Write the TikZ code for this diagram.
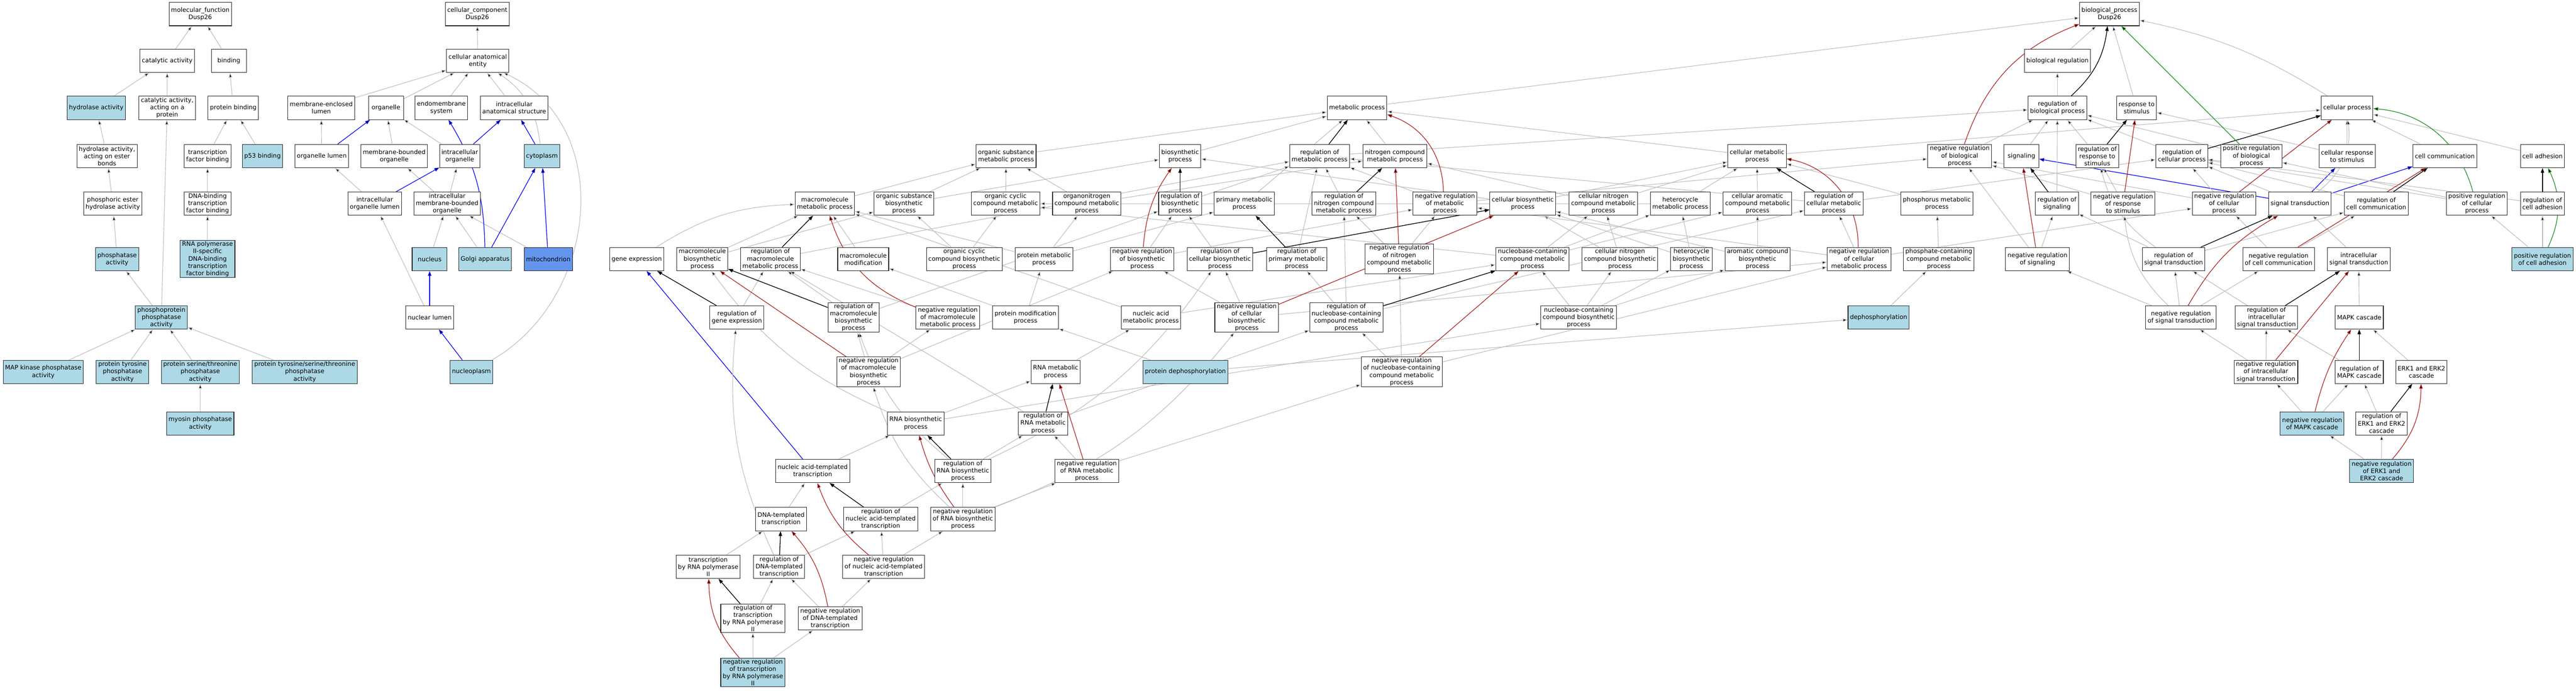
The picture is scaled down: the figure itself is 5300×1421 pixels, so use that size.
\documentclass[tikz,border=0pt]{standalone}
\usepackage{fontspec}
\setmainfont{DejaVu Sans}
\usetikzlibrary{arrows.meta, backgrounds}
\definecolor{hitblue}{HTML}{ADD8E6}
\definecolor{mitoblue}{HTML}{6495ED}
\definecolor{isagray}{HTML}{BEBEBE}
\definecolor{negred}{HTML}{B22222}
\definecolor{posgreen}{HTML}{228B22}
\tikzset{
x=1pt, y=1pt, % one unit is one pixel of the layout
>={Triangle[length=10pt,width=7pt]}, % filled heads
term/.style={draw=black!85, line width=1.1pt, fill=white, rectangle, align=center, font=\fontsize{12.6}{15}\selectfont, minimum width=72pt, minimum height=48pt, inner xsep=4pt, inner ysep=2pt}, % a GO term
hit/.style={term, fill=hitblue}, % annotated terms
mito/.style={term, fill=mitoblue},
isa/.style={->, draw=isagray, line width=1.2pt}, % is a
reg/.style={->, draw=black, line width=1.4pt}, % regulates
negreg/.style={->, draw=negred, line width=1.3pt}, % negatively regulates
posreg/.style={->, draw=posgreen, line width=1.3pt}, % positively regulates
partof/.style={->, draw=blue, line width=1.3pt}, % part of
}
\begin{document}
\begin{tikzpicture}
    \useasboundingbox (0,0) rectangle (5300,-1421);

    % molecular function
    \node[term] (mf) at (412,-29) {molecular\_function\\Dusp26};
    \node[term] (cat) at (344,-125) {catalytic activity};
    \node[term] (bind) at (471,-125) {binding};
    \node[hit] (hydro) at (198,-222) {hydrolase activity};
    \node[term] (catprot) at (344,-222) {catalytic activity,\\acting on a\\protein};
    \node[term] (protbind) at (480,-222) {protein binding};
    \node[term] (hydroester) at (220,-321) {hydrolase activity,\\acting on ester\\bonds};
    \node[term] (tfbind) at (427,-321) {transcription\\factor binding};
    \node[hit] (p53) at (540,-321) {p53 binding};
    \node[term] (phosester) at (232,-419) {phosphoric ester\\hydrolase activity};
    \node[term] (dnatf) at (427,-419) {DNA-binding\\transcription\\factor binding};
    \node[hit] (phosphatase) at (241,-533) {phosphatase\\activity};
    \node[hit] (rnapol) at (427,-533) {RNA polymerase\\II-specific\\DNA-binding\\transcription\\factor binding};
    \node[hit] (ppp) at (332,-653) {phosphoprotein\\phosphatase\\activity};
    \node[hit] (mapkp) at (89,-765) {MAP kinase phosphatase\\activity};
    \node[hit] (ptp) at (252,-765) {protein tyrosine\\phosphatase\\activity};
    \node[hit] (pstp) at (412,-765) {protein serine/threonine\\phosphatase\\activity};
    \node[hit] (ptstp) at (627,-765) {protein tyrosine/serine/threonine\\phosphatase\\activity};
    \node[hit] (myosin) at (412,-871) {myosin phosphatase\\activity};

    % cellular component
    \node[term] (cc) at (982,-29) {cellular\_component\\Dusp26};
    \node[term] (cae) at (983,-125) {cellular anatomical\\entity};
    \node[term] (memlumen) at (661,-222) {membrane-enclosed\\lumen};
    \node[term] (organelle) at (794,-222) {organelle};
    \node[term] (endo) at (908,-222) {endomembrane\\system};
    \node[term] (ias) at (1058,-222) {intracellular\\anatomical structure};
    \node[term] (orglumen) at (662,-321) {organelle lumen};
    \node[term] (mbo) at (811,-321) {membrane-bounded\\organelle};
    \node[term] (intorg) at (946,-321) {intracellular\\organelle};
    \node[hit] (cyto) at (1115,-321) {cytoplasm};
    \node[term] (intorglumen) at (771,-419) {intracellular\\organelle lumen};
    \node[term] (imbo) at (920,-419) {intracellular\\membrane-bounded\\organelle};
    \node[hit] (nucleus) at (884,-533) {nucleus};
    \node[hit] (golgi) at (998,-533) {Golgi apparatus};
    \node[mito] (mito) at (1128,-533) {mitochondrion};
    \node[term] (nuclumen) at (884,-653) {nuclear lumen};
    \node[hit] (nucleoplasm) at (970,-765) {nucleoplasm};

    % biological process
    \node[term] (bp) at (4340,-29) {biological\_process\\Dusp26};
    \node[term] (bioreg) at (4233,-125) {biological regulation};
    \node[term] (metab) at (2792,-222) {metabolic process};
    \node[term] (rbiop) at (4233,-222) {regulation of\\biological process};
    \node[term] (resp) at (4396,-222) {response to\\stimulus};
    \node[term] (cellproc) at (4829,-222) {cellular process};
    \node[term] (osmp) at (2070,-321) {organic substance\\metabolic process};
    \node[term] (biosyn) at (2428,-321) {biosynthetic\\process};
    \node[term] (rmetab) at (2715,-321) {regulation of\\metabolic process};
    \node[term] (ncmp) at (2870,-321) {nitrogen compound\\metabolic process};
    \node[term] (cmp) at (3615,-321) {cellular metabolic\\process};
    \node[term] (nbiop) at (4032,-321) {negative regulation\\of biological\\process};
    \node[term] (signaling) at (4159,-321) {signaling};
    \node[term] (rresp) at (4315,-321) {regulation of\\response to\\stimulus};
    \node[term] (rcp) at (4489,-321) {regulation of\\cellular process};
    \node[term] (pbiop) at (4632,-321) {positive regulation\\of biological\\process};
    \node[term] (crs) at (4829,-321) {cellular response\\to stimulus};
    \node[term] (cellcomm) at (5030,-321) {cell communication};
    \node[term] (celladh) at (5231,-321) {cell adhesion};
    \node[term] (mmp) at (1697,-419) {macromolecule\\metabolic process};
    \node[term] (osbp) at (1860,-419) {organic substance\\biosynthetic\\process};
    \node[term] (occmp) at (2069,-419) {organic cyclic\\compound metabolic\\process};
    \node[term] (oncmp) at (2236,-419) {organonitrogen\\compound metabolic\\process};
    \node[term] (rbp) at (2428,-419) {regulation of\\biosynthetic\\process};
    \node[term] (pmp) at (2560,-419) {primary metabolic\\process};
    \node[term] (rncmp) at (2765,-419) {regulation of\\nitrogen compound\\metabolic process};
    \node[term] (nmetab) at (2973,-419) {negative regulation\\of metabolic\\process};
    \node[term] (cbp) at (3133,-419) {cellular biosynthetic\\process};
    \node[term] (cncmp) at (3299,-419) {cellular nitrogen\\compound metabolic\\process};
    \node[term] (hetmp) at (3457,-419) {heterocycle\\metabolic process};
    \node[term] (cacmp) at (3616,-419) {cellular aromatic\\compound metabolic\\process};
    \node[term] (rcmp) at (3773,-419) {regulation of\\cellular metabolic\\process};
    \node[term] (phosmp) at (3985,-419) {phosphorus metabolic\\process};
    \node[term] (rsig) at (4232,-419) {regulation of\\signaling};
    \node[term] (nresp) at (4368,-419) {negative regulation\\of response\\to stimulus};
    \node[term] (ncp) at (4576,-419) {negative regulation\\of cellular\\process};
    \node[term] (sigtrans) at (4732,-419) {signal transduction};
    \node[term] (rcc) at (4889,-419) {regulation of\\cell communication};
    \node[term] (pcp) at (5096,-419) {positive regulation\\of cellular\\process};
    \node[term] (rca) at (5231,-419) {regulation of\\cell adhesion};
    \node[term] (geneexp) at (1310,-533) {gene expression};
    \node[term] (mbp) at (1445,-533) {macromolecule\\biosynthetic\\process};
    \node[term] (rmmp) at (1585,-533) {regulation of\\macromolecule\\metabolic process};
    \node[term] (mmmod) at (1776,-533) {macromolecule\\modification};
    \node[term] (occbp) at (1984,-533) {organic cyclic\\compound biosynthetic\\process};
    \node[term] (protmp) at (2148,-533) {protein metabolic\\process};
    \node[term] (nbp) at (2350,-533) {negative regulation\\of biosynthetic\\process};
    \node[term] (rcbp) at (2510,-533) {regulation of\\cellular biosynthetic\\process};
    \node[term] (rpmp) at (2668,-533) {regulation of\\primary metabolic\\process};
    \node[term] (nncmp) at (2879,-533) {negative regulation\\of nitrogen\\compound metabolic\\process};
    \node[term] (nbcmp) at (3153,-533) {nucleobase-containing\\compound metabolic\\process};
    \node[term] (cncbp) at (3333,-533) {cellular nitrogen\\compound biosynthetic\\process};
    \node[term] (hetbp) at (3480,-533) {heterocycle\\biosynthetic\\process};
    \node[term] (acbp) at (3616,-533) {aromatic compound\\biosynthetic\\process};
    \node[term] (ncmp2) at (3825,-533) {negative regulation\\of cellular\\metabolic process};
    \node[term] (pcmp) at (3989,-533) {phosphate-containing\\compound metabolic\\process};
    \node[term] (nsig) at (4192,-533) {negative regulation\\of signaling};
    \node[term] (rst) at (4472,-533) {regulation of\\signal transduction};
    \node[term] (ncc) at (4688,-533) {negative regulation\\of cell communication};
    \node[term] (ist) at (4853,-533) {intracellular\\signal transduction};
    \node[hit] (pca) at (5231,-533) {positive regulation\\of cell adhesion};
    \node[term] (rge) at (1516,-653) {regulation of\\gene expression};
    \node[term] (rmbp) at (1756,-653) {regulation of\\macromolecule\\biosynthetic\\process};
    \node[term] (nmmp) at (1950,-653) {negative regulation\\of macromolecule\\metabolic process};
    \node[term] (protmod) at (2110,-653) {protein modification\\process};
    \node[term] (nacmp) at (2368,-653) {nucleic acid\\metabolic process};
    \node[term] (ncbp) at (2565,-653) {negative regulation\\of cellular\\biosynthetic\\process};
    \node[term] (rnbcmp) at (2770,-653) {regulation of\\nucleobase-containing\\compound metabolic\\process};
    \node[term] (nbcbp) at (3248,-653) {nucleobase-containing\\compound biosynthetic\\process};
    \node[hit] (deph) at (3865,-653) {dephosphorylation};
    \node[term] (nst) at (4487,-653) {negative regulation\\of signal transduction};
    \node[term] (rist) at (4663,-653) {regulation of\\intracellular\\signal transduction};
    \node[term] (mapk) at (4854,-653) {MAPK cascade};
    \node[term] (nmbp) at (1787,-765) {negative regulation\\of macromolecule\\biosynthetic\\process};
    \node[term] (rnamp) at (2172,-765) {RNA metabolic\\process};
    \node[hit] (protdeph) at (2439,-765) {protein dephosphorylation};
    \node[term] (nnbcmp) at (2884,-765) {negative regulation\\of nucleobase-containing\\compound metabolic\\process};
    \node[term] (nist) at (4662,-765) {negative regulation\\of intracellular\\signal transduction};
    \node[term] (rmapk) at (4854,-765) {regulation of\\MAPK cascade};
    \node[term] (erk) at (4982,-765) {ERK1 and ERK2\\cascade};
    \node[term] (rnabp) at (1884,-871) {RNA biosynthetic\\process};
    \node[term] (rrnamp) at (2146,-871) {regulation of\\RNA metabolic\\process};
    \node[hit] (nmapk) at (4757,-871) {negative regulation\\of MAPK cascade};
    \node[term] (rerk) at (4900,-871) {regulation of\\ERK1 and ERK2\\cascade};
    \node[term] (nat) at (1672,-969) {nucleic acid-templated\\transcription};
    \node[term] (rrnabp) at (1981,-969) {regulation of\\RNA biosynthetic\\process};
    \node[term] (nrnamp) at (2236,-969) {negative regulation\\of RNA metabolic\\process};
    \node[hit] (nerk) at (4900,-969) {negative regulation\\of ERK1 and\\ERK2 cascade};
    \node[term] (dnat) at (1607,-1068) {DNA-templated\\transcription};
    \node[term] (rnat) at (1812,-1068) {regulation of\\nucleic acid-templated\\transcription};
    \node[term] (nrnabp) at (1981,-1068) {negative regulation\\of RNA biosynthetic\\process};
    \node[term] (trpol) at (1457,-1166) {transcription\\by RNA polymerase\\II};
    \node[term] (rdnat) at (1603,-1166) {regulation of\\DNA-templated\\transcription};
    \node[term] (nnat) at (1818,-1166) {negative regulation\\of nucleic acid-templated\\transcription};
    \node[term] (rtrpol) at (1549,-1272) {regulation of\\transcription\\by RNA polymerase\\II};
    \node[term] (ndnat) at (1708,-1272) {negative regulation\\of DNA-templated\\transcription};
    \node[hit] (ntrpol) at (1549,-1383) {negative regulation\\of transcription\\by RNA polymerase\\II};

    \begin{scope}[on background layer]
    \draw[isa]
    (cat) edge (mf) (bind) edge (mf)
    (hydro) edge (cat) (catprot) edge (cat) (protbind) edge (bind)
    (hydroester) edge (hydro) (tfbind) edge (protbind) (p53) edge (protbind)
    (phosester) edge (hydroester) (dnatf) edge (tfbind) (rnapol) edge (dnatf)
    (phosphatase) edge (phosester) (ppp) edge (phosphatase) (ppp) edge (catprot)
    (mapkp) edge (ppp) (ptp) edge (ppp) (pstp) edge (ppp) (ptstp) edge (ppp)
    (myosin) edge (pstp);

    \draw[isa]
    (cae) edge (cc) (memlumen) edge (cae) (organelle) edge (cae) (endo) edge (cae) (ias) edge (cae)
    (cyto) edge[bend right=25] (cae)
    (nucleoplasm) edge[out=30, in=-25, looseness=1.1] (cae)
    (orglumen) edge (memlumen) (mbo) edge (organelle) (intorg) edge (organelle)
    (intorglumen) edge (orglumen) (imbo) edge (mbo) (imbo) edge (intorg)
    (nucleus) edge (imbo) (golgi) edge (imbo) (mito) edge (imbo)
    (nuclumen) edge (intorglumen);

    \draw[partof]
    (orglumen) edge (organelle) (intorg) edge (ias) (intorglumen) edge (intorg)
    (golgi) edge[bend right=15] (endo) (golgi) edge (cyto) (mito) edge (cyto)
    (cyto) edge (ias) (nuclumen) edge (nucleus) (nucleoplasm) edge (nuclumen)
    (nat) edge (geneexp)
    (sigtrans) edge (signaling) (sigtrans) edge (crs) (sigtrans) edge (cellcomm);

    \draw[isa]
    (bioreg) edge (bp) (resp) edge (bp) (metab) edge (bp) (cellproc) edge[bend right=10] (bp)
    (rbiop) edge (bioreg)
    (osmp) edge (metab) (biosyn) edge (metab) (ncmp) edge (metab) (pmp) edge (metab) (cmp) edge (metab)
    (rmetab) edge (rbiop) (nbiop) edge (rbiop) (pbiop) edge (rbiop) (signaling) edge (rbiop)
    (rresp) edge (rbiop) (rsig) edge (rbiop) (rcp) edge (rbiop)
    (cmp) edge (cellproc) (crs) edge (cellproc) (cellcomm) edge (cellproc) (celladh) edge (cellproc)
    (sigtrans) edge[bend right=30] (cellproc)
    (crs) edge (resp)
    (mmp) edge (osmp) (osbp) edge (osmp) (occmp) edge (osmp) (oncmp) edge (osmp)
    (osbp) edge (biosyn) (cbp) edge (biosyn)
    (rbp) edge (rmetab) (rncmp) edge (rmetab) (nmetab) edge (rmetab) (rmmp) edge (rmetab)
    (rpmp) edge (rmetab) (rcmp) edge (rmetab)
    (oncmp) edge (ncmp) (cncmp) edge (ncmp)
    (cbp) edge (cmp) (cncmp) edge (cmp) (hetmp) edge (cmp) (cacmp) edge (cmp) (phosmp) edge (cmp)
    (nmetab) edge (nbiop) (nresp) edge (nbiop) (ncp) edge (nbiop) (nsig) edge (nbiop)
    (nresp) edge (rresp) (rst) edge[bend left=20] (rresp)
    (ncp) edge (rcp) (pcp) edge (rcp) (rca) edge (rcp) (rcc) edge (rcp) (rcmp) edge (rcp) (sigtrans) edge (rcp)
    (pcp) edge (pbiop)
    (geneexp) edge[bend left=15] (mmp) (mbp) edge (mmp) (mmmod) edge (mmp) (protmp) edge (mmp) (nacmp) edge (mmp)
    (mbp) edge (osbp) (occbp) edge (osbp) (occbp) edge (occmp)
    (protmp) edge (oncmp) (protmp) edge (pmp) (hetmp) edge (occmp)
    (nbp) edge (rbp) (rcbp) edge (rbp) (rmbp) edge (rbp) (nbp) edge (nmetab)
    (nncmp) edge (rncmp) (nncmp) edge (nmetab)
    (cncbp) edge (cncmp) (cncbp) edge (cbp) (hetbp) edge (hetmp) (hetbp) edge (cbp)
    (acbp) edge (cacmp) (acbp) edge (cbp)
    (nbcmp) edge (cncmp) (nbcmp) edge (hetmp) (nbcmp) edge (cacmp) (nbcmp) edge (occmp)
    (ncmp2) edge (rcmp) (ncmp2) edge (ncp) (ncmp2) edge (nmetab)
    (pcmp) edge (phosmp) (nsig) edge (rsig)
    (rst) edge (rcc) (rst) edge (rsig) (ncc) edge (rcc) (ncc) edge (ncp)
    (ist) edge (sigtrans) (pca) edge (rca) (pca) edge (pcp)
    (rge) edge (rmmp) (rmbp) edge (rmmp) (nmmp) edge (rmmp)
    (protmod) edge (protmp) (protmod) edge (mmmod) (nacmp) edge (nbcmp)
    (ncbp) edge (rcbp) (ncbp) edge (nbp) (ncbp) edge (ncmp2)
    (rnbcmp) edge (rncmp) (rnbcmp) edge (rpmp) (rnbcmp) edge (rcmp)
    (nbcbp) edge (nbcmp) (nbcbp) edge (cncbp) (nbcbp) edge (hetbp) (nbcbp) edge (acbp)
    (deph) edge (pcmp)
    (nst) edge (rst) (nst) edge (ncc) (nst) edge (nsig) (nst) edge[bend left=20] (nresp)
    (rist) edge (rst) (mapk) edge (ist)
    (nmbp) edge (rmbp) (nmbp) edge (nmmp) (nmbp) edge (nbp)
    (rnamp) edge (nacmp) (protdeph) edge (protmod) (protdeph) edge (deph)
    (nnbcmp) edge (rnbcmp) (nnbcmp) edge (nncmp) (nnbcmp) edge (ncmp2)
    (nist) edge (rist) (nist) edge (nst) (erk) edge (mapk) (rmapk) edge (rist)
    (rnabp) edge (rnamp) (rnabp) edge (nbcbp) (rnabp) edge[bend left=15] (mbp)
    (rrnamp) edge (rnbcmp) (rrnamp) edge (rmmp)
    (nmapk) edge (nist) (nmapk) edge (rmapk) (rerk) edge (rmapk)
    (nat) edge (rnabp)
    (rrnabp) edge (rrnamp) (rrnabp) edge[bend left=15] (rmbp) (rrnabp) edge[bend right=15] (rcbp)
    (nrnamp) edge (rrnamp) (nrnamp) edge (nnbcmp)
    (nerk) edge (nmapk) (nerk) edge (rerk)
    (dnat) edge (nat) (rnat) edge (rrnabp)
    (nrnabp) edge (rrnabp) (nrnabp) edge (nrnamp) (nrnabp) edge[bend left=15] (nmbp) (nrnabp) edge[bend right=15] (ncbp)
    (trpol) edge (dnat) (rdnat) edge (rnat) (rdnat) edge[bend left=15] (rge)
    (nnat) edge (rnat) (nnat) edge (nrnabp)
    (rtrpol) edge (rdnat) (ndnat) edge (rdnat) (ndnat) edge (nnat)
    (ntrpol) edge (rtrpol) (ntrpol) edge (ndnat);

    \draw[reg]
    (rbiop) edge[bend right=20] (bp) (rresp) edge (resp) (rcp) edge (cellproc) (rmetab) edge (metab)
    (rbp) edge (biosyn) (rncmp) edge (ncmp) (rsig) edge (signaling) (rcmp) edge (cmp)
    (rcc) edge (cellcomm) (rca) edge (celladh) (rmmp) edge (mmp) (rpmp) edge (pmp)
    (rcbp) edge (cbp) (rst) edge (sigtrans) (rist) edge (ist) (rge) edge (geneexp)
    (rmbp) edge (mbp) (rnbcmp) edge (nbcmp) (rrnamp) edge (rnamp) (rmapk) edge (mapk)
    (rerk) edge (erk) (rrnabp) edge (rnabp) (rnat) edge (nat) (rdnat) edge (dnat)
    (rtrpol) edge (trpol);

    \draw[negreg]
    (nbiop) edge[bend left=25] (bp) (nresp) edge (resp) (ncp) edge (cellproc)
    (nmetab) edge[bend right=35] (metab) (nbp) edge[bend left=15] (biosyn) (nncmp) edge (ncmp)
    (nsig) edge (signaling) (ncmp2) edge[bend right=40] (cmp) (ncc) edge (cellcomm)
    (nmmp) edge[bend left=25] (mmp) (ncbp) edge (cbp) (nst) edge[bend left=15] (sigtrans)
    (nist) edge (ist) (nmbp) edge (mbp) (nnbcmp) edge (nbcmp) (nrnamp) edge (rnamp)
    (nmapk) edge[bend left=10] (mapk) (nerk) edge[bend right=20] (erk)
    (nrnabp) edge[bend left=10] (rnabp) (nnat) edge[bend left=15] (nat)
    (ndnat) edge[bend right=15] (dnat) (ntrpol) edge[bend left=20] (trpol);

    \draw[posreg]
    (pbiop) edge (bp) (pcp) edge[bend right=35] (cellproc) (pca) edge[bend right=25] (celladh);
    \end{scope}

  \end{tikzpicture}
\end{document}
